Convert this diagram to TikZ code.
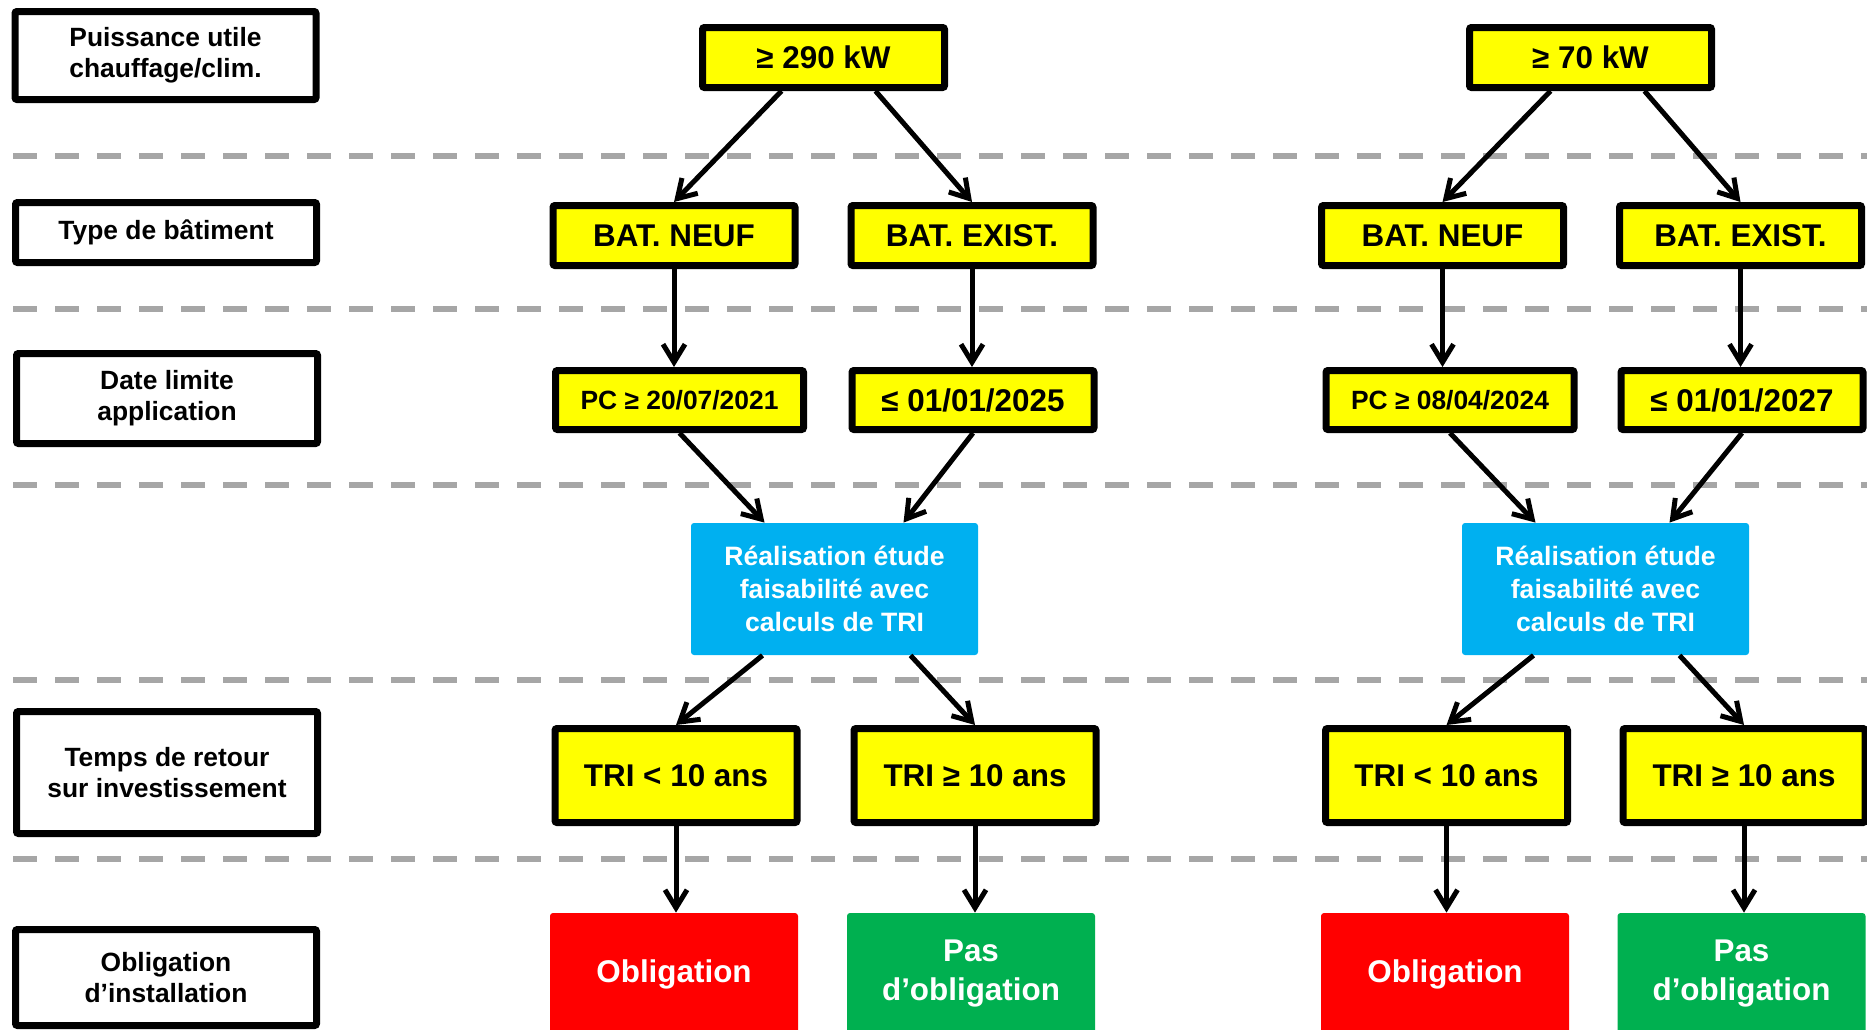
\documentclass[tikz,border=0pt]{standalone}
\usepackage{fontspec}
\setmainfont{Liberation Sans}
\usetikzlibrary{arrows.meta}

\definecolor{jaune}{HTML}{FFFF00}
\definecolor{bleu}{HTML}{00B0F0}
\definecolor{rouge}{HTML}{FF0000}
\definecolor{vert}{HTML}{00B050}
\definecolor{gris}{HTML}{A6A6A6}

\tikzset{
  etiquette/.style={draw, line width=3.5pt, fill=white, rounded corners=1pt, minimum width=150.5pt, inner sep=0pt, align=center, font=\bfseries\fontsize{13.2}{15.5}\selectfont},
  critere/.style={draw, line width=3.5pt, fill=jaune, rounded corners=1pt, minimum width=121pt, minimum height=30pt, inner sep=0pt, align=center, font=\bfseries\fontsize{15.7}{18}\selectfont},
  etude/.style={fill=bleu, rounded corners=1.5pt, minimum width=143.5pt, minimum height=66pt, inner sep=0pt, align=center, text=white, font=\bfseries\fontsize{13.3}{16.5}\selectfont},
  resultat/.style={rounded corners=1.5pt, minimum width=124pt, minimum height=61pt, inner sep=0pt, align=center, text=white, font=\bfseries\fontsize{15.7}{19.5}\selectfont},
  fleche/.style={line width=2.5pt, -{Straight Barb[length=9pt,width=11pt]}},
  separation/.style={gris, line width=2.75pt, dash pattern=on 12pt off 9pt}
}

\begin{document}
\begin{tikzpicture}[x=0.5pt, y=-0.5pt]
    \useasboundingbox (0,0) rectangle (1867,1029);
    % lignes de separation
    \draw[separation] (13,156) -- (1867,156);
    \draw[separation] (13,309) -- (1867,309);
    \draw[separation] (13,485) -- (1867,485);
    \draw[separation] (13,680) -- (1867,680);
    \draw[separation] (13,859) -- (1867,859);

    % colonne des etiquettes
    \node[etiquette, minimum height=44pt] (puissance) at (165.5,55.5) {Puissance utile\\chauffage/clim.};
    \node[etiquette, minimum height=30pt] (type) at (166,232.5) {Type de bâtiment};
    \node[etiquette, minimum height=45pt] (date) at (167,398.5) {Date limite\\application};
    \node[etiquette, minimum height=61pt] (retour) at (167,772.5) {Temps de retour\\sur investissement};
    \node[etiquette, minimum height=48pt] (installation) at (166,977.5) {Obligation\\d’installation};

    % arbre >= 290 kW
    \node[critere] (p290) at (823.5,57.5) {≥ 290 kW};
    \node[critere] (neufA) at (674,235.5) {BAT. NEUF};
    \node[critere] (existA) at (972,235.5) {BAT. EXIST.};
    \node[critere, minimum width=124pt, minimum height=29.5pt, font=\bfseries\fontsize{13.2}{15}\selectfont] (pcA) at (679.5,400) {PC ≥ 20/07/2021};
    \node[critere, minimum height=29.5pt] (dateA) at (973,400) {≤ 01/01/2025};
    \node[etude] (etudeA) at (834.5,589) {Réalisation étude\\faisabilité avec\\calculs de TRI};
    \node[critere, minimum height=47pt] (triinfA) at (676,775.5) {TRI < 10 ans};
    \node[critere, minimum height=47pt] (trisupA) at (975,775.5) {TRI ≥ 10 ans};
    \node[resultat, fill=rouge] (obligA) at (674,974) {Obligation};
    \node[resultat, fill=vert] (pasA) at (971,974) {Pas\\d’obligation};

    % arbre >= 70 kW
    \node[critere] (p70) at (1590.5,57.5) {≥ 70 kW};
    \node[critere] (neufB) at (1442.5,235.5) {BAT. NEUF};
    \node[critere] (existB) at (1740.5,235.5) {BAT. EXIST.};
    \node[critere, minimum width=124pt, minimum height=29.5pt, font=\bfseries\fontsize{13.2}{15}\selectfont] (pcB) at (1450,400) {PC ≥ 08/04/2024};
    \node[critere, minimum height=29.5pt] (dateB) at (1742,400) {≤ 01/01/2027};
    \node[etude] (etudeB) at (1605.5,589) {Réalisation étude\\faisabilité avec\\calculs de TRI};
    \node[critere, minimum height=47pt] (triinfB) at (1446.5,775.5) {TRI < 10 ans};
    \node[critere, minimum height=47pt] (trisupB) at (1744,775.5) {TRI ≥ 10 ans};
    \node[resultat, fill=rouge] (obligB) at (1445,974) {Obligation};
    \node[resultat, fill=vert] (pasB) at (1741.5,974) {Pas\\d’obligation};

    % fleches
    \draw[fleche] ([xshift=-21pt]p290.south) -- (neufA.north);
    \draw[fleche] ([xshift=26pt]p290.south) -- (existA.north);
    \draw[fleche] (neufA.south) -- (neufA.south |- pcA.north);
    \draw[fleche] (existA.south) -- (existA.south |- dateA.north);
    \draw[fleche] (pcA.south) -- ([xshift=-35pt]etudeA.north);
    \draw[fleche] (dateA.south) -- ([xshift=34.5pt]etudeA.north);
    \draw[fleche] ([xshift=-36pt]etudeA.south) -- (triinfA.north);
    \draw[fleche] ([xshift=38pt]etudeA.south) -- (trisupA.north);
    \draw[fleche] (triinfA.south) -- (triinfA.south |- obligA.north);
    \draw[fleche] (trisupA.south) -- (trisupA.south |- pasA.north);

    \draw[fleche] ([xshift=-20pt]p70.south) -- (neufB.north);
    \draw[fleche] ([xshift=27pt]p70.south) -- (existB.north);
    \draw[fleche] (neufB.south) -- (neufB.south |- pcB.north);
    \draw[fleche] (existB.south) -- (existB.south |- dateB.north);
    \draw[fleche] (pcB.south) -- ([xshift=-35pt]etudeB.north);
    \draw[fleche] (dateB.south) -- ([xshift=32pt]etudeB.north);
    \draw[fleche] ([xshift=-36pt]etudeB.south) -- (triinfB.north);
    \draw[fleche] ([xshift=37pt]etudeB.south) -- (trisupB.north);
    \draw[fleche] (triinfB.south) -- (triinfB.south |- obligB.north);
    \draw[fleche] (trisupB.south) -- (trisupB.south |- pasB.north);
  \end{tikzpicture}
\end{document}
